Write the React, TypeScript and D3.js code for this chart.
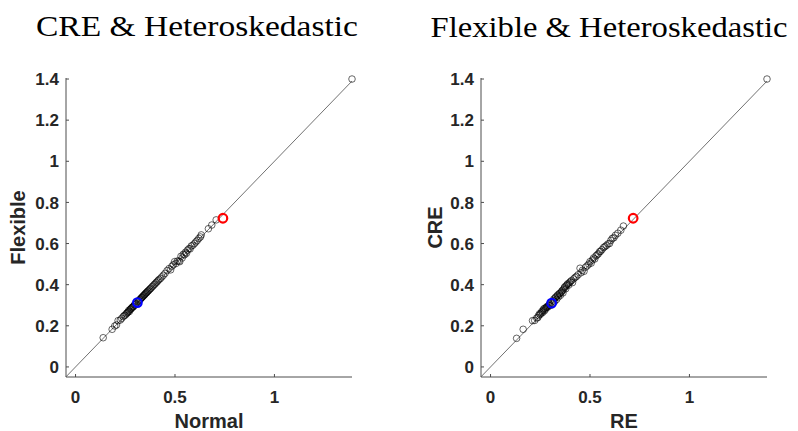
import React from "react";
import * as d3 from "d3";

// Left panel: Normal (x) vs Flexible (y)
const normalVals = [
  0.139, 0.184, 0.197, 0.206, 0.214, 0.225, 0.232, 0.24, 0.245, 0.25,
  0.255, 0.258, 0.262, 0.265, 0.268, 0.271, 0.274, 0.277, 0.28, 0.283,
  0.286, 0.289, 0.292, 0.295, 0.298, 0.302, 0.305, 0.315, 0.318, 0.322,
  0.325, 0.328, 0.331, 0.334, 0.337, 0.34, 0.343, 0.346, 0.349, 0.352,
  0.355, 0.358, 0.361, 0.364, 0.368, 0.372, 0.376, 0.38, 0.385, 0.39,
  0.395, 0.4, 0.405, 0.41, 0.415, 0.42, 0.427, 0.434, 0.442, 0.45,
  0.46, 0.47, 0.478, 0.485, 0.492, 0.498, 0.505, 0.512, 0.52, 0.524,
  0.53, 0.536, 0.542, 0.548, 0.553, 0.558, 0.563, 0.57, 0.576, 0.582,
  0.59, 0.598, 0.605, 0.612, 0.62, 0.628, 0.632, 0.668, 0.685, 0.707,
  1.39,
];
const flexibleVals = [
  0.142, 0.183, 0.199, 0.204, 0.225, 0.228, 0.236, 0.245, 0.25, 0.252,
  0.258, 0.262, 0.265, 0.268, 0.275, 0.27, 0.279, 0.281, 0.284, 0.288,
  0.29, 0.293, 0.294, 0.3, 0.302, 0.305, 0.308, 0.318, 0.322, 0.326,
  0.329, 0.332, 0.336, 0.338, 0.341, 0.345, 0.347, 0.351, 0.353, 0.357,
  0.36, 0.362, 0.366, 0.369, 0.372, 0.377, 0.38, 0.384, 0.39, 0.394,
  0.4, 0.404, 0.41, 0.414, 0.42, 0.425, 0.43, 0.438, 0.446, 0.455,
  0.468, 0.478, 0.472, 0.49, 0.497, 0.512, 0.503, 0.515, 0.515, 0.512,
  0.538, 0.53, 0.548, 0.545, 0.558, 0.553, 0.568, 0.575, 0.574, 0.588,
  0.592, 0.6, 0.608, 0.615, 0.625, 0.632, 0.642, 0.672, 0.69, 0.715,
  1.4,
];
const leftRed = [0.741, 0.723];
const leftBlue = [0.311, 0.313];

// Right panel: RE (x) vs CRE (y)
const reVals = [
  0.131, 0.164, 0.211, 0.222, 0.232, 0.238, 0.242, 0.246, 0.25, 0.254,
  0.258, 0.261, 0.264, 0.267, 0.27, 0.273, 0.276, 0.28, 0.283, 0.286,
  0.29, 0.293, 0.297, 0.3, 0.312, 0.315, 0.318, 0.322, 0.325, 0.328,
  0.332, 0.335, 0.338, 0.341, 0.345, 0.348, 0.351, 0.355, 0.358, 0.361,
  0.364, 0.368, 0.371, 0.374, 0.378, 0.381, 0.385, 0.389, 0.393, 0.397,
  0.402, 0.407, 0.412, 0.418, 0.425, 0.432, 0.44, 0.45, 0.455, 0.462,
  0.47, 0.478, 0.486, 0.494, 0.5, 0.506, 0.512, 0.518, 0.524, 0.53,
  0.536, 0.542, 0.548, 0.553, 0.56, 0.568, 0.575, 0.582, 0.59, 0.598,
  0.605, 0.612, 0.62, 0.628, 0.64, 0.655, 0.668, 1.39,
];
const creVals = [
  0.139, 0.183, 0.225, 0.226, 0.238, 0.24, 0.25, 0.258, 0.255, 0.262,
  0.27, 0.264, 0.275, 0.282, 0.272, 0.285, 0.28, 0.289, 0.293, 0.29,
  0.296, 0.3, 0.305, 0.298, 0.31, 0.322, 0.33, 0.318, 0.335, 0.34,
  0.328, 0.345, 0.35, 0.34, 0.355, 0.358, 0.348, 0.362, 0.368, 0.372,
  0.36, 0.378, 0.385, 0.39, 0.38, 0.395, 0.4, 0.405, 0.398, 0.41,
  0.415, 0.42, 0.41, 0.428, 0.435, 0.44, 0.448, 0.48, 0.458, 0.47,
  0.465, 0.485, 0.492, 0.5, 0.512, 0.505, 0.52, 0.53, 0.525, 0.54,
  0.545, 0.55, 0.56, 0.562, 0.57, 0.58, 0.585, 0.59, 0.598, 0.6,
  0.615, 0.625, 0.628, 0.64, 0.65, 0.665, 0.685, 1.4,
];
const rightRed = [0.717, 0.723];
const rightBlue = [0.307, 0.31];

const xTicks = [0, 0.5, 1];
const yTicks = [0, 0.2, 0.4, 0.6, 0.8, 1, 1.2, 1.4];
const xDomain = [-0.048, 1.39];
const yDomain = [-0.049, 1.405];

const AXIS = "#4d4d4d";
const TICKFONT = "'Liberation Sans', Arial, Helvetica, sans-serif";

type PanelProps = {
  left: number;
  right: number;
  title: string;
  titleX: number;
  titleW: number;
  titleY: number;
  xLabel: string;
  yLabel: string;
  yLabelX: number;
  xs: number[];
  ys: number[];
  red: number[];
  blue: number[];
};

function Panel(p: PanelProps) {
  const top = 78;
  const bottom = 377;
  const x = d3.scaleLinear().domain(xDomain).range([p.left, p.right]);
  const y = d3.scaleLinear().domain(yDomain).range([bottom, top]);
  const pts = p.xs.map((v, i) => [v, p.ys[i]]);
  const diag = d3.line<number>().x((v) => x(v)).y((v) => y(v));
  const tl = 3;
  return (
    <g>
      <text
        x={p.titleX}
        y={p.titleY}
        textAnchor="middle"
        fontFamily="'Liberation Serif', 'Times New Roman', serif"
        fontSize={29}
        textLength={p.titleW}
        lengthAdjust="spacingAndGlyphs"
        fill="#000"
      >
        {p.title}
      </text>
      <path d={diag([xDomain[0], 1.39]) || ""} stroke="#333" strokeWidth={0.7} fill="none" />
      {pts.map((d, i) => (
        <circle key={i} cx={x(d[0])} cy={y(d[1])} r={3.3} fill="none" stroke="#000" strokeWidth={0.6} />
      ))}
      <circle cx={x(p.red[0])} cy={y(p.red[1])} r={4.3} fill="none" stroke="#ff0000" strokeWidth={2.2} />
      <circle cx={x(p.blue[0])} cy={y(p.blue[1])} r={4.3} fill="none" stroke="#0000ff" strokeWidth={2.2} />
      {/* axes */}
      <line x1={p.left} x2={p.left} y1={top} y2={bottom} stroke={AXIS} strokeWidth={1} />
      <line x1={p.left} x2={p.right} y1={bottom} y2={bottom} stroke={AXIS} strokeWidth={1} />
      {yTicks.map((t) => (
        <g key={"y" + t}>
          <line x1={p.left} x2={p.left + tl} y1={y(t)} y2={y(t)} stroke={AXIS} strokeWidth={1} />
          <text
            x={p.left - 7}
            y={y(t)}
            dy="0.36em"
            textAnchor="end"
            fontFamily={TICKFONT}
            fontWeight="bold"
            fontSize={17}
            fill="#262626"
          >
            {d3.format("")(t)}
          </text>
        </g>
      ))}
      {xTicks.map((t) => (
        <g key={"x" + t}>
          <line x1={x(t)} x2={x(t)} y1={bottom} y2={bottom - tl} stroke={AXIS} strokeWidth={1} />
          <text
            x={x(t)}
            y={402.5}
            textAnchor="middle"
            fontFamily={TICKFONT}
            fontWeight="bold"
            fontSize={17}
            fill="#262626"
          >
            {d3.format("")(t)}
          </text>
        </g>
      ))}
      <text
        x={(p.left + p.right) / 2}
        y={428}
        textAnchor="middle"
        fontFamily={TICKFONT}
        fontWeight="bold"
        fontSize={20}
        fill="#262626"
      >
        {p.xLabel}
      </text>
      <text
        transform={`translate(${p.yLabelX},${(top + bottom) / 2}) rotate(-90)`}
        textAnchor="middle"
        fontFamily={TICKFONT}
        fontWeight="bold"
        fontSize={20}
        fill="#262626"
      >
        {p.yLabel}
      </text>
    </g>
  );
}

export default function App() {
  return (
    <svg
      width={798}
      height={431}
      style={{ position: "absolute", left: 0, top: 0, background: "#fff" }}
    >
      <rect x={0} y={0} width={798} height={431} fill="#fff" />
      <Panel
        left={66}
        right={352}
        title="CRE & Heteroskedastic"
        titleX={197}
        titleW={322}
        titleY={35.5}
        xLabel="Normal"
        yLabel="Flexible"
        yLabelX={25}
        xs={normalVals}
        ys={flexibleVals}
        red={leftRed}
        blue={leftBlue}
      />
      <Panel
        left={481}
        right={767}
        title="Flexible & Heteroskedastic"
        titleX={609}
        titleW={357}
        titleY={37}
        xLabel="RE"
        yLabel="CRE"
        yLabelX={441.5}
        xs={reVals}
        ys={creVals}
        red={rightRed}
        blue={rightBlue}
      />
    </svg>
  );
}
